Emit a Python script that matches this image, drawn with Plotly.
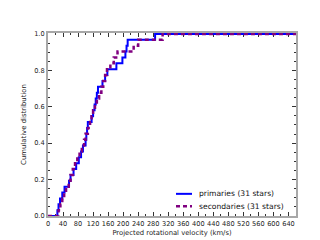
import plotly.graph_objects as go

primaries = [25, 28, 32, 38, 44, 56, 60, 68, 75, 82, 88, 93, 100, 102, 104, 106,
             116, 120, 124, 127, 130, 133, 145, 152, 158, 182, 198, 206, 209, 212, 285]
secondaries = [28, 33, 38, 43, 48, 55, 60, 66, 72, 78, 84, 90, 96, 100, 106, 112,
               116, 120, 125, 130, 136, 142, 147, 152, 157, 166, 175, 185, 228, 240, 305]
labels = ["primaries (31 stars)", "secondaries (31 stars)"]
x_ticks = list(range(0, 641, 40))
y_ticks = [0.0, 0.2, 0.4, 0.6, 0.8, 1.0]
XMAX = 660
BLUE = "#0000ff"
PURPLE = "#800080"


def ecdf(vals):
    v = sorted(vals)
    n = len(v)
    xs = [0] + v + [XMAX]
    ys = [0] + [(i + 1) / n for i in range(n)] + [1.0]
    return xs, ys


fig = go.Figure()
xp, yp = ecdf(primaries)
xs, ys = ecdf(secondaries)
fig.add_trace(go.Scatter(x=xp, y=yp, mode="lines", line=dict(color=BLUE, width=2, shape="hv"),
                         name=labels[0], showlegend=False))
fig.add_trace(go.Scatter(x=xs, y=ys, mode="lines",
                         line=dict(color=PURPLE, width=2.5, shape="hv", dash="4px,3px"),
                         name=labels[1], showlegend=False))

# legend drawn manually (compact spacing as in the reference)
W, H = 320, 240
L, R, T, B = 40, 32, 25, 25
pw, ph = W - L - R, H - T - B


def px(xpix):
    return (xpix - L) / pw


def py(ypix):
    return (H - B - ypix) / ph


leg = [(labels[0], BLUE, "solid", 2, 192), (labels[1], PURPLE, "4px,3px", 2.5, 205)]
for text, col, dash, wd, yy in leg:
    fig.add_shape(type="line", xref="paper", yref="paper", x0=px(168), x1=px(184), y0=py(yy), y1=py(yy),
                  line=dict(color=col, width=wd, dash=dash))
    fig.add_annotation(xref="paper", yref="paper", x=px(190), y=py(yy), text=text, showarrow=False,
                       xanchor="left", yanchor="middle", borderpad=0,
                       font=dict(size=7.6, color="#111"))

axis_common = dict(showgrid=False, zeroline=False, showline=True, linecolor="#a8a8a8", linewidth=2,
                   mirror="ticks", ticks="inside", ticklen=4, tickcolor="#333", tickwidth=1,
                   layer="below traces",
                   tickfont=dict(size=6.6, color="#222", family="DejaVu Sans"))
fig.update_layout(
    width=W, height=H,
    margin=dict(l=L, r=R, t=T, b=B),
    paper_bgcolor="white", plot_bgcolor="white",
    font=dict(family="DejaVu Sans", size=8, color="#222"),
    xaxis=dict(range=[0, XMAX], tickvals=x_ticks, ticktext=[str(t) for t in x_ticks], tickangle=0,
               title=dict(text="Projected rotational velocity (km/s)", font=dict(size=6.8), standoff=3),
               minor=dict(dtick=20, ticks="inside", ticklen=2, tickcolor="#333"),
               **axis_common),
    yaxis=dict(range=[0, 1.005], tickvals=y_ticks, ticktext=[f"{t:.1f}" for t in y_ticks],
               title=dict(text="Cumulative distribution", font=dict(size=6.9), standoff=7),
               minor=dict(dtick=0.05, ticks="inside", ticklen=2, tickcolor="#333"),
               **axis_common),
    showlegend=False,
)
fig.write_html("out.html")
